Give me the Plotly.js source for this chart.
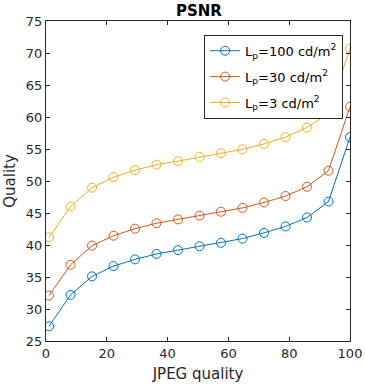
<!DOCTYPE html>
<html><head><meta charset="utf-8">
<script src="https://cdn.plot.ly/plotly-3.0.1.min.js"></script>
<style>body{margin:0;background:#fff}#g{width:365px;height:387px}</style>
</head><body><div id="g"></div>
<script>
var jpegQuality = [1, 8.07, 15.14, 22.21, 29.29, 36.36, 43.43, 50.5, 57.57, 64.64, 71.71, 78.79, 85.86, 92.93, 100];
var lp100 = [27.3, 32.2, 35.1, 36.7, 37.75, 38.6, 39.2, 39.8, 40.35, 41.0, 41.9, 42.9, 44.3, 46.8, 56.85];
var lp30 = [32.1, 36.9, 39.9, 41.45, 42.55, 43.4, 44.0, 44.6, 45.2, 45.8, 46.65, 47.65, 49.1, 51.6, 61.6];
var lp3 = [41.2, 46.0, 48.95, 50.6, 51.7, 52.55, 53.1, 53.75, 54.35, 54.95, 55.8, 56.85, 58.35, 60.6, 70.7];
var names = ['L<sub>p</sub>=100 cd/m<sup>2</sup>', 'L<sub>p</sub>=30 cd/m<sup>2</sup>', 'L<sub>p</sub>=3 cd/m<sup>2</sup>'];
var colors = ['#0072BD', '#D95319', '#EDB120'];
var series = [lp100, lp30, lp3];
var traces = series.map(function(s, i){
  return {x: jpegQuality, y: s, name: names[i], legendgroup: 'g' + i, type: 'scatter', mode: 'lines+markers',
    line: {color: colors[i], width: 1},
    marker: {symbol: 'circle-open', size: 9, color: colors[i], line: {width: 1, color: colors[i]}}};
});
var font = {family: 'DejaVu Sans, sans-serif', size: 13, color: '#262626'};
var tfont = {family: 'DejaVu Sans, sans-serif', size: 15, color: '#262626'};
var layout = {
  width: 365, height: 387,
  margin: {l: 46, r: 15, t: 21, b: 46},
  paper_bgcolor: '#fff', plot_bgcolor: '#fff',
  font: font,
  title: {text: '<b>PSNR</b>', font: {family: 'DejaVu Sans, sans-serif', size: 15, color: '#000'}, x: 0.545, xanchor: 'center', y: 0.972, yanchor: 'middle'},
  xaxis: {range: [0, 100], tickvals: [0, 20, 40, 60, 80, 100], ticks: 'inside', ticklen: 4, tickcolor: '#262626',
    showline: true, linecolor: '#262626', linewidth: 1, mirror: 'ticks', showgrid: false, zeroline: false,
    title: {text: 'JPEG quality', font: tfont, standoff: 8}, tickfont: font},
  yaxis: {range: [25, 75], tickvals: [25, 30, 35, 40, 45, 50, 55, 60, 65, 70, 75], ticks: 'inside', ticklen: 4, tickcolor: '#262626',
    showline: true, linecolor: '#262626', linewidth: 1, mirror: 'ticks', showgrid: false, zeroline: false,
    title: {text: 'Quality', font: tfont, standoff: 6}, tickfont: font},
  legend: {x: 0.52, y: 0.957, xanchor: 'left', yanchor: 'top', bgcolor: '#fff', bordercolor: '#262626', borderwidth: 1,
    font: {family: 'DejaVu Sans, sans-serif', size: 13, color: '#000'}, tracegroupgap: 6},
  showlegend: true
};
Plotly.newPlot('g', traces, layout, {displayModeBar: false, staticPlot: true});
</script></body></html>
